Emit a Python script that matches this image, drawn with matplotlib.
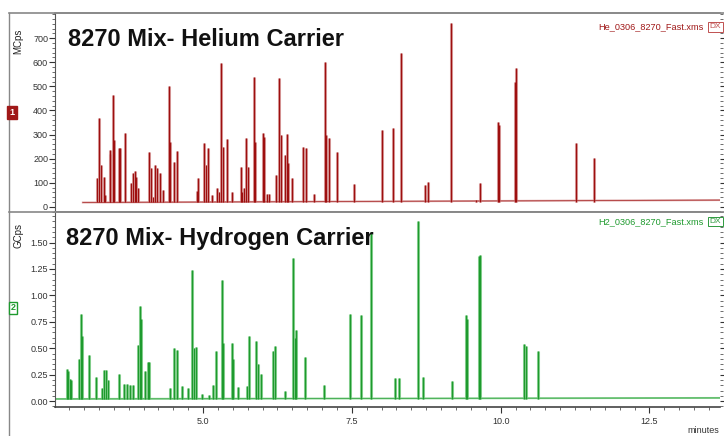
import numpy as np
import matplotlib
matplotlib.use("Agg")
import matplotlib.pyplot as plt
from matplotlib.lines import Line2D
from matplotlib.ticker import MultipleLocator, FixedLocator

plt.rcParams['font.family'] = ['Liberation Sans', 'DejaVu Sans']

# helium carrier peaks: retention time (min), height (MCps)
he_time = [3.22, 3.25, 3.29, 3.33, 3.36, 3.43, 3.44, 3.48, 3.50, 3.59, 3.61, 3.69,
           3.79, 3.82, 3.85, 3.88, 3.91, 4.09, 4.12, 4.16, 4.20, 4.22, 4.27, 4.33,
           4.43, 4.45, 4.52, 4.57, 4.90, 4.92, 5.02, 5.05, 5.09, 5.15, 5.24, 5.27,
           5.31, 5.34, 5.40, 5.49, 5.63, 5.65, 5.68, 5.73, 5.76, 5.85, 5.88, 6.01,
           6.03, 6.07, 6.10, 6.22, 6.28, 6.31, 6.38, 6.41, 6.43, 6.49, 6.68, 6.73,
           6.87, 7.05, 7.07, 7.11, 7.25, 7.53, 8.01, 8.19, 8.33, 8.73, 8.78, 9.17,
           9.59, 9.66, 9.96, 9.98, 10.24, 10.26, 11.27, 11.57]
he_height = [120, 370, 174, 124, 50, 221, 236, 464, 277, 244, 244, 306,
             98, 140, 150, 124, 80, 228, 160, 40, 174, 160, 140, 70,
             501, 270, 185, 230, 65, 120, 264, 172, 246, 50, 80, 60,
             595, 250, 280, 60, 167, 60, 80, 285, 165, 537, 270, 305,
             290, 55, 55, 132, 533, 300, 215, 302, 180, 119, 250, 243,
             55, 602, 300, 284, 229, 94, 319, 326, 637, 91, 105, 763,
             30, 98, 353, 340, 520, 575, 265, 203]
he_base_t = [2.98, 13.72]
he_base_y = [18, 28]

# hydrogen carrier peaks: retention time (min), height (GCps)
h2_time = [2.71, 2.73, 2.76, 2.78, 2.92, 2.95, 2.97, 3.08, 3.20, 3.30, 3.34, 3.37,
           3.40, 3.59, 3.67, 3.72, 3.77, 3.82, 3.90, 3.94, 3.96, 4.02, 4.07, 4.09,
           4.45, 4.51, 4.57, 4.64, 4.75, 4.81, 4.84, 4.88, 4.99, 5.10, 5.16, 5.21,
           5.32, 5.34, 5.49, 5.51, 5.59, 5.74, 5.78, 5.89, 5.93, 5.97, 6.17, 6.21,
           6.38, 6.51, 6.54, 6.57, 6.72, 7.04, 7.47, 7.66, 7.82, 8.22, 8.30, 8.61,
           8.69, 9.19, 9.42, 9.44, 9.64, 9.66, 10.40, 10.42, 10.62]
h2_height = [0.30, 0.28, 0.21, 0.20, 0.40, 0.82, 0.62, 0.44, 0.23, 0.12, 0.29, 0.29,
             0.20, 0.26, 0.16, 0.16, 0.15, 0.15, 0.53, 0.90, 0.78, 0.28, 0.37, 0.37,
             0.12, 0.50, 0.48, 0.14, 0.12, 1.24, 0.50, 0.51, 0.07, 0.06, 0.15, 0.47,
             1.15, 0.55, 0.55, 0.40, 0.13, 0.14, 0.62, 0.57, 0.35, 0.26, 0.47, 0.52,
             0.10, 1.35, 0.60, 0.67, 0.42, 0.15, 0.82, 0.81, 1.60, 0.22, 0.22, 1.70,
             0.23, 0.19, 0.81, 0.78, 1.37, 1.38, 0.54, 0.52, 0.47]
h2_base_t = [2.40, 13.72]
h2_base_y = [0.02, 0.03]

xticks = [5.0, 7.5, 10.0, 12.5]
xticklabels = ['5.0', '7.5', '10.0', '12.5']

fig = plt.figure(figsize=(7.24, 4.36), dpi=100)
ax1 = fig.add_axes([0.076, 0.514, 0.918, 0.456])
ax2 = fig.add_axes([0.076, 0.0665, 0.918, 0.4475], sharex=ax1)

# draw a trace: light halo then dark core
def trace(ax, t, h, bt, by, dark, light):
    ax.plot(bt, by, color=light, lw=1.4, zorder=1)
    ax.plot(bt, by, color=dark, lw=0.6, alpha=0.7, zorder=2)
    ax.vlines(t, by[0], h, color=light, lw=2.2, zorder=1)
    ax.vlines(t, by[0], h, color=dark, lw=0.9, zorder=2)

trace(ax1, he_time, he_height, he_base_t, he_base_y, '#9e0f0f', '#dba3a3')
trace(ax2, h2_time, h2_height, h2_base_t, h2_base_y, '#1e9a2e', '#8fd497')

ax1.set_xlim(2.513, 13.68)
ax1.set_ylim(-21, 804)
ax2.set_ylim(-0.056, 1.79)

ax1.yaxis.set_major_locator(FixedLocator([0, 100, 200, 300, 400, 500, 600, 700]))
ax1.yaxis.set_minor_locator(MultipleLocator(20))
ax2.yaxis.set_major_locator(FixedLocator([0, 0.25, 0.5, 0.75, 1.0, 1.25, 1.5]))
ax2.yaxis.set_minor_locator(MultipleLocator(0.05))
ax2.set_yticklabels(['0.00', '0.25', '0.50', '0.75', '1.00', '1.25', '1.50'])

ax2.set_xticks(xticks)
ax2.set_xticklabels(xticklabels)
ax2.xaxis.set_minor_locator(MultipleLocator(0.25))
ax1.tick_params(axis='x', which='both', bottom=False, labelbottom=False)

for ax in (ax1, ax2):
    ax.tick_params(axis='y', which='major', length=4, width=0.8, labelsize=6.5,
                   colors='#333333', pad=1, right=True, direction='out')
    ax.tick_params(axis='y', which='minor', length=2, width=0.6, color='#555555', right=True)
    ax.spines['right'].set_visible(False)
    ax.spines['left'].set_color('#555555')
    ax.spines['top'].set_color('#888888')
    ax.spines['bottom'].set_color('#888888')
    ax.spines['top'].set_linewidth(1.2)
    ax.spines['bottom'].set_linewidth(1.2)
ax2.spines['bottom'].set_color('#444444')
ax2.tick_params(axis='x', which='major', length=4, width=0.8, labelsize=6.5,
                colors='#333333', pad=3)
ax2.tick_params(axis='x', which='minor', length=2, width=0.6, color='#555555')

ax1.text(0.019, 0.925, '8270 Mix- Helium Carrier', transform=ax1.transAxes,
         fontsize=17, weight='bold', color='#111111', va='top', ha='left')
ax2.text(0.016, 0.925, '8270 Mix- Hydrogen Carrier', transform=ax2.transAxes,
         fontsize=17, weight='bold', color='#111111', va='top', ha='left')

ax1.text(0.975, 0.93, 'He_0306_8270_Fast.xms', transform=ax1.transAxes,
         fontsize=6.6, color='#a01818', ha='right', va='center')
ax2.text(0.975, 0.95, 'H2_0306_8270_Fast.xms', transform=ax2.transAxes,
         fontsize=6.6, color='#1e9a2e', ha='right', va='center')
ax1.text(0.985, 0.93, 'DX', transform=ax1.transAxes, fontsize=6, color='#c05050',
         ha='left', va='center',
         bbox=dict(boxstyle='square,pad=0.15', fc='white', ec='#c05050', lw=0.7))
ax2.text(0.985, 0.95, 'DX', transform=ax2.transAxes, fontsize=6, color='#2e9a3e',
         ha='left', va='center',
         bbox=dict(boxstyle='square,pad=0.15', fc='white', ec='#2e9a3e', lw=0.7))

# y-axis unit labels and trace number badges
fig.text(0.025, 0.905, 'MCps', rotation=90, fontsize=7, ha='center', va='center', color='#222222')
fig.text(0.025, 0.46, 'GCps', rotation=90, fontsize=7, ha='center', va='center', color='#222222')
fig.text(0.0165, 0.742, '1', fontsize=6.5, color='white', ha='center', va='center', weight='bold',
         bbox=dict(boxstyle='square,pad=0.25', fc='#a01818', ec='#a01818'))
fig.text(0.0180, 0.294, '2', fontsize=6.5, color='#1e9a2e', ha='center', va='center', weight='bold',
         bbox=dict(boxstyle='square,pad=0.2', fc='white', ec='#1e9a2e', lw=1.0))

fig.text(0.972, 0.003, 'minutes', fontsize=6.5, color='#333333', ha='center', va='bottom')

# outer frame lines of the viewer window
fig.add_artist(Line2D([0.0125, 1.0], [0.970, 0.970], color='#888888', lw=1.2))
fig.add_artist(Line2D([0.0125, 1.0], [0.514, 0.514], color='#888888', lw=1.2))
fig.add_artist(Line2D([0.0125, 0.0125], [0.0, 0.970], color='#888888', lw=1.0))

fig.savefig('out.png', dpi=100)
